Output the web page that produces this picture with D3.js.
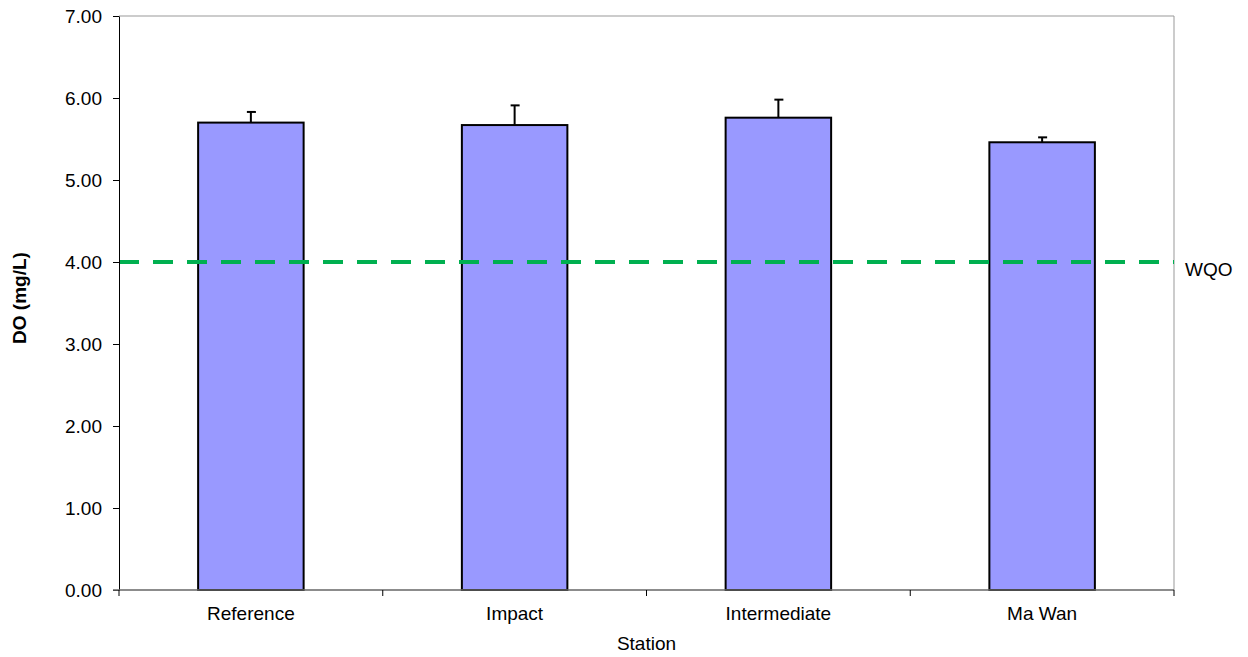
<!DOCTYPE html>
<html>
<head>
    <meta charset="utf-8">
    <title>DO by station</title>
    <style>
        body { margin: 0; background: #fff; }
        text { font-family: "Liberation Sans", Arial, sans-serif; }
    </style>
    <script src="https://cdn.jsdelivr.net/npm/d3@7"></script>
</head>
<body>
<script>

    var stations = ['Reference', 'Impact', 'Intermediate', 'Ma Wan']
    var doMean = [5.70, 5.67, 5.76, 5.46]
    var doErr = [0.13, 0.24, 0.22, 0.06]
    var yTicks = [0, 1, 2, 3, 4, 5, 6, 7]
    var wqo = 4.0

    var width = 1248,
        height = 657,
        plotLeft = 119,
        plotRight = 1174,
        plotTop = 16,
        plotBottom = 590,
        fs = 19

    var svg = d3.select('body').append('svg')
        .attr('width', width)
        .attr('height', height)

    var x = d3.scaleBand()
        .domain(stations)
        .range([plotLeft, plotRight])
        .paddingInner(0.6)
        .paddingOuter(0.3)

    var y = d3.scaleLinear()
        .domain([0, 7])
        .range([plotBottom, plotTop])

    // plot frame (top / right)
    svg.append('path')
        .attr('d', 'M' + plotLeft + ',' + plotTop + 'H' + plotRight + 'V' + plotBottom)
        .attr('fill', 'none')
        .attr('stroke', '#999')
        .attr('stroke-width', 1)

    // bars
    svg.selectAll('rect.bar')
        .data(stations)
        .enter().append('rect')
        .attr('class', 'bar')
        .attr('x', function (d) { return x(d) })
        .attr('y', function (d, i) { return y(doMean[i]) })
        .attr('width', x.bandwidth())
        .attr('height', function (d, i) { return y(0) - y(doMean[i]) })
        .attr('fill', '#9999ff')
        .attr('stroke', '#000')
        .attr('stroke-width', 2)

    // error bars (upper only)
    var eb = svg.selectAll('g.err')
        .data(stations)
        .enter().append('g')
        .attr('class', 'err')
    eb.append('line')
        .attr('x1', function (d) { return x(d) + x.bandwidth() / 2 })
        .attr('x2', function (d) { return x(d) + x.bandwidth() / 2 })
        .attr('y1', function (d, i) { return y(doMean[i]) })
        .attr('y2', function (d, i) { return y(doMean[i] + doErr[i]) })
        .attr('stroke', '#000')
        .attr('stroke-width', 2)
    eb.append('line')
        .attr('x1', function (d) { return x(d) + x.bandwidth() / 2 - 4 })
        .attr('x2', function (d) { return x(d) + x.bandwidth() / 2 + 5 })
        .attr('y1', function (d, i) { return y(doMean[i] + doErr[i]) })
        .attr('y2', function (d, i) { return y(doMean[i] + doErr[i]) })
        .attr('stroke', '#000')
        .attr('stroke-width', 2)

    // WQO line
    svg.append('line')
        .attr('x1', plotLeft)
        .attr('x2', plotRight)
        .attr('y1', y(wqo))
        .attr('y2', y(wqo))
        .attr('stroke', '#00b050')
        .attr('stroke-width', 4)
        .attr('stroke-dasharray', '20,14')
    svg.append('text')
        .attr('x', 1185)
        .attr('y', y(wqo) + 14)
        .attr('font-size', fs)
        .text('WQO')

    // y axis
    var yAxis = svg.append('g')
        .attr('transform', 'translate(' + plotLeft + ',0)')
        .call(d3.axisLeft(y).tickValues(yTicks).tickFormat(d3.format('.2f')).tickSize(6).tickSizeOuter(0))
    yAxis.selectAll('text').attr('font-size', fs).attr('fill', '#000').attr('x', -17)
    yAxis.selectAll('line, path').attr('stroke', '#000')

    // x axis
    var xAxis = svg.append('g')
        .attr('transform', 'translate(0,' + plotBottom + ')')
    xAxis.append('line')
        .attr('x1', plotLeft - 6).attr('x2', plotRight)
        .attr('y1', 0).attr('y2', 0)
        .attr('stroke', '#666').attr('stroke-width', 1.5)
    var bounds = stations.map(function (d) { return x(d) - x.step() * 0.3 }).concat([plotRight])
    xAxis.selectAll('line.tk')
        .data(bounds)
        .enter().append('line')
        .attr('class', 'tk')
        .attr('x1', function (d) { return d })
        .attr('x2', function (d) { return d })
        .attr('y1', 0).attr('y2', 6)
        .attr('stroke', '#000')
    xAxis.selectAll('text')
        .data(stations)
        .enter().append('text')
        .attr('x', function (d) { return x(d) + x.bandwidth() / 2 })
        .attr('y', 30)
        .attr('text-anchor', 'middle')
        .attr('font-size', fs)
        .text(function (d) { return d })

    svg.append('text')
        .attr('x', (plotLeft + plotRight) / 2)
        .attr('y', 650)
        .attr('text-anchor', 'middle')
        .attr('font-size', fs)
        .text('Station')

    svg.append('text')
        .attr('transform', 'translate(26,' + 298 + ') rotate(-90)')
        .attr('text-anchor', 'middle')
        .attr('font-size', fs)
        .attr('font-weight', 'bold')
        .text('DO (mg/L)')

</script>
</body>
</html>
